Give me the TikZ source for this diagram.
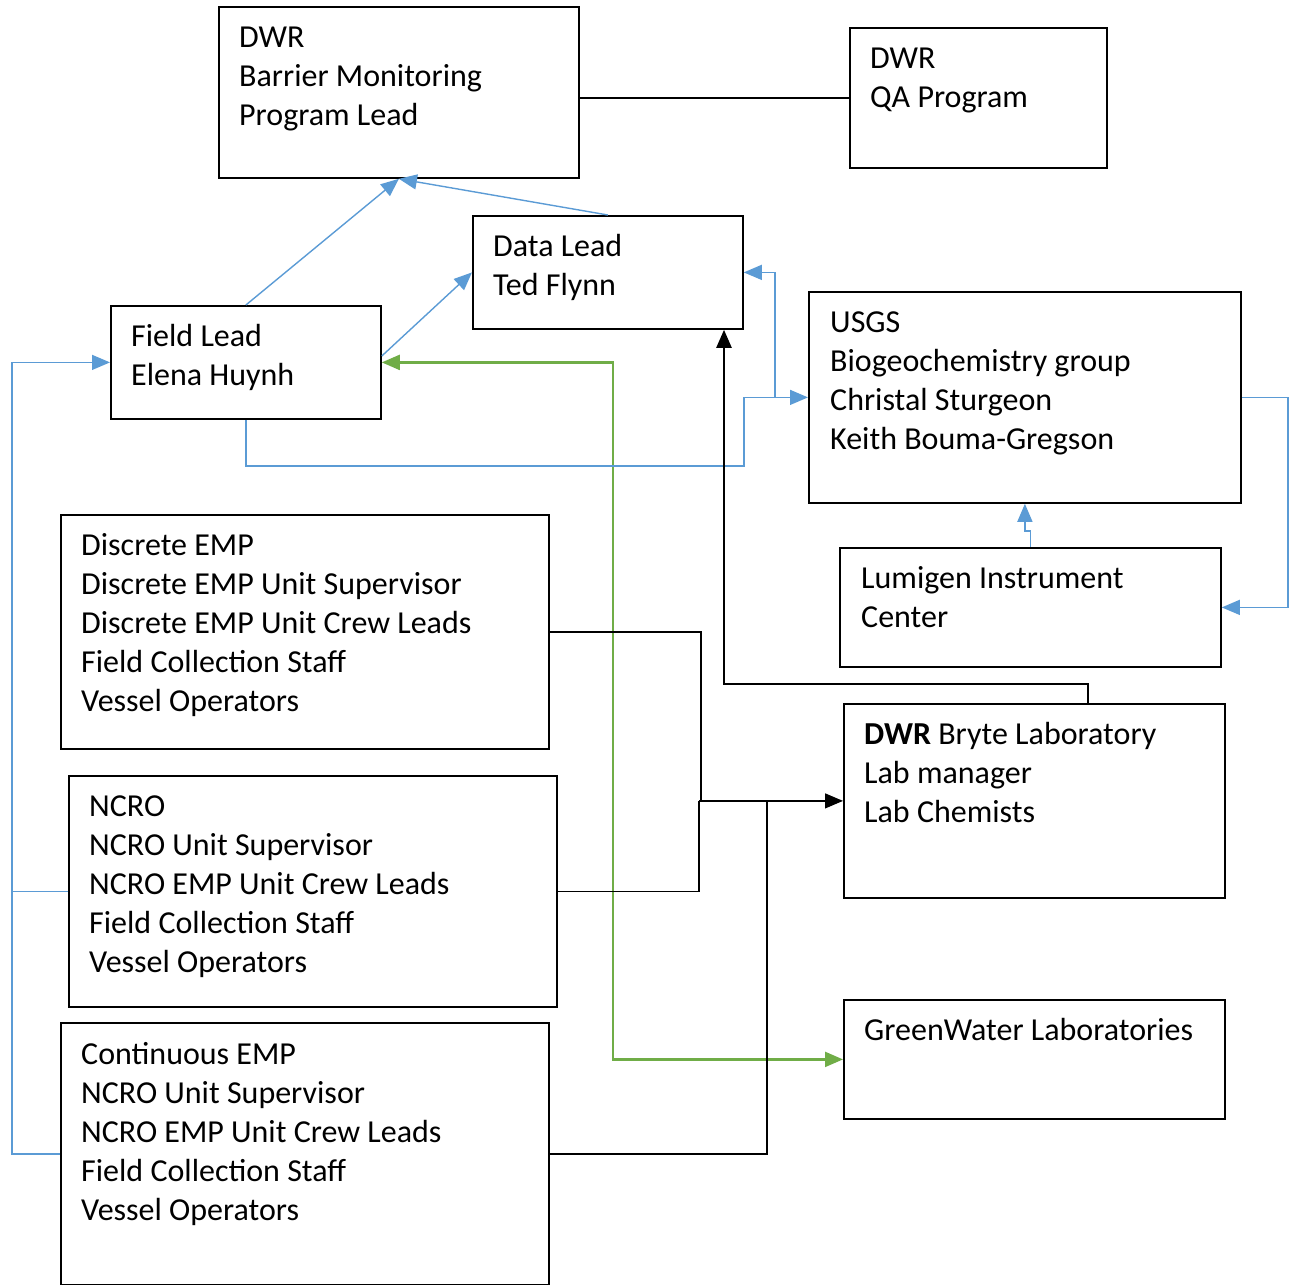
\documentclass[tikz,border=0pt]{standalone}
\usepackage{fontspec}
\setmainfont{Carlito}
\usetikzlibrary{arrows.meta,calc}
\definecolor{cblue}{HTML}{5B9BD5}
\definecolor{cgreen}{HTML}{70AD47}
\begin{document}
\begin{tikzpicture}[x=1pt,y=-1pt,
  box/.style={draw=black, line width=1.8pt, anchor=north west, inner sep=0pt},
  txt/.style={anchor=base west, align=left, inner sep=0pt, font=\fontsize{32}{39}\selectfont},
  tip/.style={-{Triangle[length=18pt,width=15pt]}},
  bl/.style={draw=cblue, line width=1.4pt},
  blarr/.style={bl, tip},
  grn/.style={draw=cgreen, line width=2.2pt, {Triangle[length=18pt,width=15pt]}-{Triangle[length=18pt,width=15pt]}},
  blk/.style={draw=black, line width=1.2pt},
  blkarr/.style={blk, tip},
  thick blk/.style={draw=black, line width=2.4pt, tip}
]
\useasboundingbox (0,0) rectangle (1291,1285);

% boxes
\node[box, minimum width=360pt, minimum height=171pt] (dwr) at (218,6) {};
\node[box, minimum width=257pt, minimum height=140pt] (qa) at (849,27) {};
\node[box, minimum width=270pt, minimum height=113pt] (dl) at (472,215) {};
\node[box, minimum width=270pt, minimum height=113pt] (fl) at (110,305) {};
\node[box, minimum width=432pt, minimum height=211pt] (usgs) at (808,291) {};
\node[box, minimum width=381pt, minimum height=119pt] (lum) at (839,547) {};
\node[box, minimum width=488pt, minimum height=234pt] (disc) at (60,514) {};
\node[box, minimum width=488pt, minimum height=231pt] (ncro) at (68,775) {};
\node[box, minimum width=488pt, minimum height=262pt] (cont) at (60,1022) {};
\node[box, minimum width=381pt, minimum height=194pt] (bryte) at (843,703) {};
\node[box, minimum width=381pt, minimum height=119pt] (gw) at (843,999) {};

% texts (base = baseline of last line)
\node[txt] (tdwr) at (239,125) {DWR\\Barrier Monitoring\\Program Lead};
\node[txt] (tqa) at (870,107) {DWR\\QA Program};
\node[txt] (tdl) at (493,295) {Data Lead\\Ted Flynn};
\node[txt] (tfl) at (131,385) {Field Lead\\Elena Huynh};
\node[txt] (tusgs) at (830,449) {USGS\\Biogeochemistry group\\Christal Sturgeon\\Keith Bouma-Gregson};
\node[txt] (tlum) at (861,627) {Lumigen Instrument\\Center};
\node[txt] (tdisc) at (81,711) {Discrete EMP\\Discrete EMP Unit Supervisor\\Discrete EMP Unit Crew Leads\\Field Collection Staff\\Vessel Operators};
\node[txt] (tncro) at (89,972) {NCRO\\NCRO Unit Supervisor\\NCRO EMP Unit Crew Leads\\Field Collection Staff\\Vessel Operators};
\node[txt] (tcont) at (81,1220) {Continuous EMP\\NCRO Unit Supervisor\\NCRO EMP Unit Crew Leads\\Field Collection Staff\\Vessel Operators};
\node[txt] (tbry) at (864,822) {\textbf{DWR} Bryte Laboratory\\Lab manager\\Lab Chemists};
\node[txt] (tgw) at (864,1040) {GreenWater Laboratories};

% coordinates
\coordinate (xg) at (613,0);
\coordinate (xb1) at (744,466);
\coordinate (xj) at (775,0);
\coordinate (xr) at (1288,0);
\coordinate (xk) at (724,684);
\coordinate (xm) at (1088,0);
\coordinate (xd) at (701,0);
\coordinate (xn) at (699,0);
\coordinate (xc) at (767,0);
\coordinate (xl) at (12,0);

% connectors
\draw[blk] (dwr.east |- qa.west) -- (qa.west);
\draw[blarr] (fl.north) -- (dwr.south);
\draw[blarr] (dl.north) -- (dwr.south);
\draw[blarr] ($(fl.north east)+(0,51)$) -- (dl.west);
\draw[grn] (fl.east) -- (fl.east -| xg) |- (gw.west);
\draw[blarr] (fl.south) |- (xb1) |- (usgs.west);
\draw[blarr] (usgs.west -| xj) |- (dl.east);
\draw[blarr] (usgs.east) -- (usgs.east -| xr) |- (lum.east);
\draw[blarr] (lum.north) -- ++(0,-16) -| (usgs.south);
\draw[thick blk] (bryte.north -| xm) |- (xk) -- (dl.south -| xk);
\draw[blk] (disc.east) -| (bryte.west -| xd);
\draw[blk] (ncro.east) -| (bryte.west -| xn);
\draw[blkarr] (bryte.west -| xn) -- (bryte.west);
\draw[blk] (cont.east) -| (bryte.west -| xc);
\draw[bl] (cont.west) -| (fl.west -| xl);
\draw[blarr] (fl.west -| xl) -- (fl.west);
\draw[bl] (ncro.west) -- (ncro.west -| xl);
\end{tikzpicture}
\end{document}
